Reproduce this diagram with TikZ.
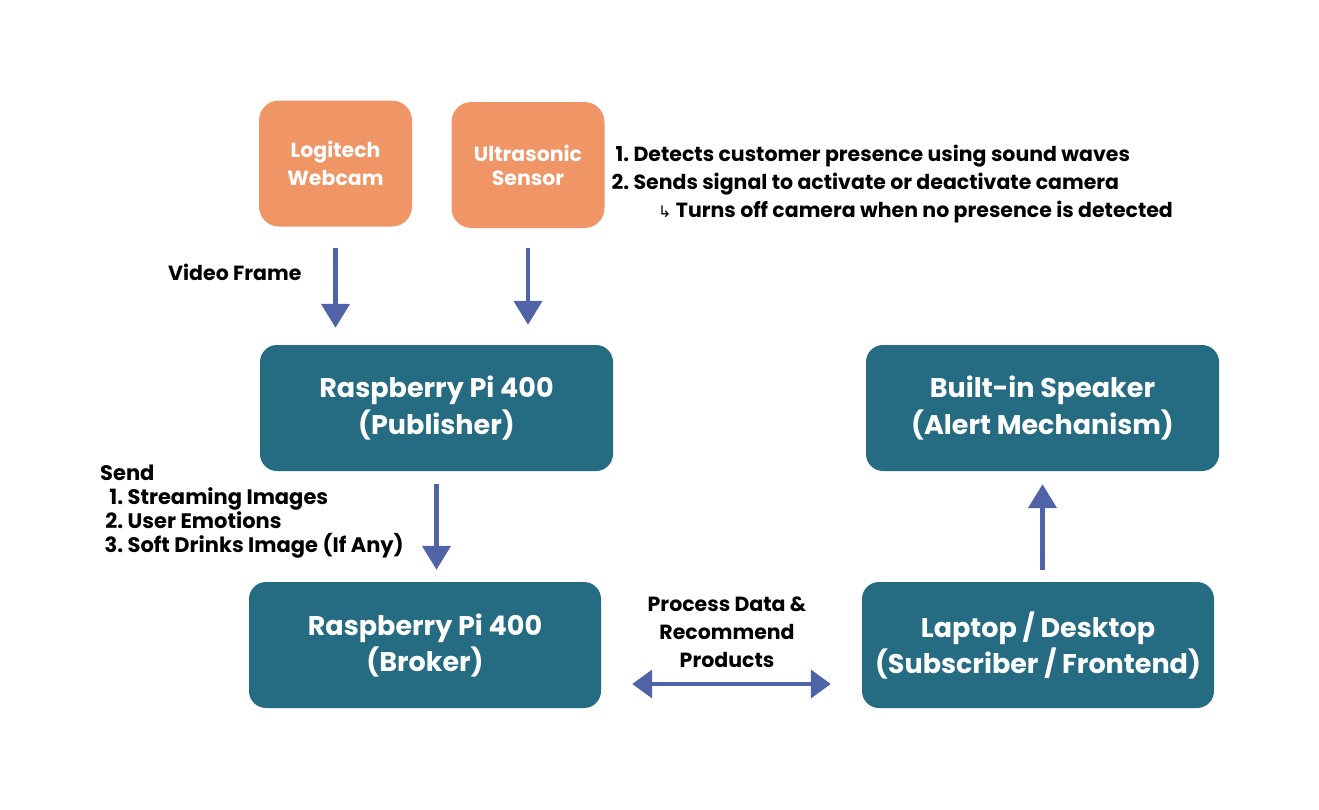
\documentclass[tikz,border=0pt]{standalone}
\usepackage{fontspec}
\setmainfont{Poppins}
\newfontfamily\symfont{DejaVu Sans}
\usetikzlibrary{arrows.meta}
\definecolor{sensororange}{HTML}{EF9566}
\definecolor{nodeteal}{HTML}{256B82}
\definecolor{flowblue}{HTML}{4F63A6}

\begin{document}
\begin{tikzpicture}[x=1pt, y=-1pt,
	sensor/.style={rectangle, rounded corners=20pt, fill=sensororange, text=white, align=center, inner sep=0pt,
		minimum width=153pt, minimum height=126pt, font=\bfseries\fontsize{20.5}{28}\selectfont},
	device/.style={rectangle, rounded corners=17pt, fill=nodeteal, text=white, align=center, inner sep=0pt,
		minimum width=353pt, minimum height=126pt, font=\bfseries\fontsize{27}{36}\selectfont},
	note/.style={inner sep=0pt, align=left, text=black, font=\bfseries\fontsize{20.5}{28}\selectfont},
	flow/.style={draw=flowblue, line width=4.5pt, -{Triangle[width=28pt,length=24pt]}}]

			\fill[white] (0,0) rectangle (1319,809);
			\useasboundingbox (0,0) rectangle (1319,809);

			% sensors
			\node[sensor] (webcam) at (335.5,163.5) {Logitech\\Webcam};
			\node[sensor, font=\bfseries\fontsize{20.5}{24}\selectfont] (ultra) at (528,165) {Ultrasonic\\Sensor};

			% devices
			\node[device] (pub) at (436.5,408) {Raspberry Pi 400\\(Publisher)};
			\node[device] (speaker) at (1042.5,408) {Built-in Speaker\\(Alert Mechanism)};
			\node[device, minimum width=352pt] (broker) at (425,645) {Raspberry Pi 400\\(Broker)};
			\node[device, minimum width=352pt] (laptop) at (1038,645) {Laptop / Desktop\\(Subscriber / Frontend)};

			% notes
			\node[note, anchor=west] (framenote) at (168,272) {Video Frame};
			\node[note, anchor=west] (ultranote) at (611,184)
				{\makebox[18pt][r]{1.} Detects customer presence using sound waves\\
				 \makebox[18pt][r]{2.} Sends signal to activate or deactivate camera\\
				 \hspace*{47pt}{\symfont\mdseries\fontsize{16}{28}\selectfont ↳} Turns off camera when no presence is detected};
			\node[note, anchor=west, font=\bfseries\fontsize{21}{24}\selectfont] (sendnote) at (100,512)
				{Send\\
				 \makebox[23pt][r]{1.} Streaming Images\\
				 \makebox[23pt][r]{2.} User Emotions\\
				 \makebox[23pt][r]{3.} Soft Drinks Image (If Any)};
			\node[note, align=center] (procnote) at (727,632) {Process Data \&\\Recommend\\Products};

			% connectors
			\draw[flow, shorten <=21pt, shorten >=17pt] (webcam.south) -- (webcam.south |- pub.north);
			\draw[flow, shorten <=20pt, shorten >=20pt] (ultra.south) -- (ultra.south |- pub.north);
			\draw[flow, shorten <=13pt, shorten >=12pt] (pub.south) -- (pub.south |- broker.north);
			\draw[flow, shorten <=12pt, shorten >=13pt] (speaker.south |- laptop.north) -- (speaker.south);
			\draw[flow, {Triangle[width=28pt,length=20pt]}-{Triangle[width=28pt,length=20pt]}, line width=4pt, shorten <=31pt, shorten >=31pt]
				([yshift=-39pt]broker.east) -- ([yshift=-39pt]broker.east -| laptop.west);
%			\draw[flow] (broker) -- (laptop);

\end{tikzpicture}
\end{document}
